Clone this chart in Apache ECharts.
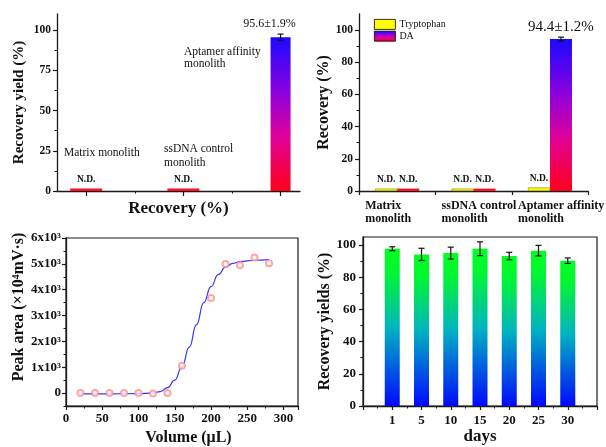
<!DOCTYPE html>
<html><head><meta charset="utf-8">
<script src="https://cdn.jsdelivr.net/npm/echarts@6/dist/echarts.min.js"></script>
<style>html,body{margin:0;padding:0;background:#fff}#c{width:606px;height:447px}</style>
</head><body><div id="c"></div>
<script>
// ---------- Panel A: recovery yield on three monoliths ----------
const aCats = ['Matrix monolith', 'ssDNA control\nmonolith', 'Aptamer affinity\nmonolith'];
const aPos = [1, 2, 3];
const aValues = [1.5, 1.5, 95.6];
const aErr = [0, 0, 1.9];
const aDetected = [false, false, true];
const aTicks = [0, 25, 50, 75, 100];
const aMinorTicks = [12.5, 37.5, 62.5, 87.5];
// ---------- Panel B: Tryptophan vs DA ----------
const bCats = ['Matrix\nmonolith', 'ssDNA control\nmonolith', 'Aptamer affinity\nmonolith'];
const bTrp = [1.5, 1.5, 2.2];
const bDA = [1.5, 1.5, 94.4];
const bDAErr = [0, 0, 1.2];
const bTrpDetected = [false, false, false];
const bDADetected = [false, false, true];
const bTicks = [0, 20, 40, 60, 80, 100];
const bMinorTicks = [10, 30, 50, 70, 90];
// ---------- Panel C: breakthrough curve ----------
const cVolume = [20, 40, 60, 80, 100, 120, 140, 160, 200, 220, 240, 260, 280];
const cArea = [0, 0, 0, 0, 0, -20, 0, 1057, 3680, 4997, 4946, 5250, 5023];
const cFitX = [20, 60, 100, 120, 130, 140, 150, 160, 170, 180, 190, 200, 210, 220, 230, 240, 260, 280];
const cFitY = [-30, -30, -22, 5, 60, 210, 500, 1020, 1780, 2650, 3500, 4120, 4580, 4870, 5020, 5090, 5140, 5160];
const cYTicks = [0, 1000, 2000, 3000, 4000, 5000, 6000];
const cYMinorTicks = [-500, 500, 1500, 2500, 3500, 4500, 5500];
// ---------- Panel D: stability over days ----------
const dDays = ['1', '5', '10', '15', '20', '25', '30'];
const dYield = [97.7, 94.2, 95.0, 97.7, 93.2, 96.5, 90.3];
const dErr = [1.2, 3.8, 3.7, 4.3, 2.3, 3.3, 1.7];
const dYTicks = [0, 20, 40, 60, 80, 100];
const dYMinorTicks = [10, 30, 50, 70, 90];

const serif = 'Liberation Serif';
const ink = '#1a1a1a';
const chart = echarts.init(document.getElementById('c'), null, {renderer: 'canvas'});
function grad(stops) {
  return new echarts.graphic.LinearGradient(0, 0, 0, 1, stops.map(s => ({offset: s[0], color: s[1]})));
}
const gradRB = () => grad([[0, '#1a0aff'], [0.35, '#8a00e0'], [0.65, '#e0009a'], [1, '#ff0018']]);
const gradGB = grad([[0, '#00ff1e'], [0.15, '#00f732'], [0.5, '#00b4c0'], [1, '#0008ff']]);
const flatRed = '#ff1020';

function mainAxis(o) {
  return Object.assign({
    type: 'value',
    axisLine: {show: true, onZero: false, lineStyle: {color: ink, width: 1.3}},
    axisTick: Object.assign({show: true, length: 4, lineStyle: {color: ink, width: 1.2}}, o.tick || {}),
    axisLabel: Object.assign({color: '#111', fontFamily: serif, fontWeight: 'bold', fontSize: 11.5}, o.label || {}),
    splitLine: {show: false},
    nameLocation: 'middle',
    nameTextStyle: Object.assign({color: '#111', fontFamily: serif, fontWeight: 'bold', fontSize: 16}, o.nameStyle || {})
  }, o.rest || {});
}
function minorAxis(gridIndex, min, max, values, position) {
  return {
    type: 'value', gridIndex, min, max, position,
    axisLine: {show: false, onZero: false},
    axisTick: {show: true, length: 2.5, customValues: values, lineStyle: {color: ink, width: 1}},
    axisLabel: {show: false}, splitLine: {show: false}
  };
}
function errRender(offset, cap) {
  return function (params, api) {
    const x = api.value(0), y = api.value(1), e = api.value(2);
    if (!e) return null;
    const lo = api.coord([x, y - e]), hi = api.coord([x, y + e]);
    const cx = lo[0] + offset;
    const st = {stroke: '#111', lineWidth: 1.2};
    return {type: 'group', children: [
      {type: 'line', shape: {x1: cx, y1: lo[1], x2: cx, y2: hi[1]}, style: st},
      {type: 'line', shape: {x1: cx - cap, y1: hi[1], x2: cx + cap, y2: hi[1]}, style: st},
      {type: 'line', shape: {x1: cx - cap, y1: lo[1], x2: cx + cap, y2: lo[1]}, style: st}
    ]};
  };
}
const bLabelW = 64;

const option = {
  animation: false,
  backgroundColor: '#fff',
  grid: [
    {left: 57, top: 14, width: 243, height: 177},
    {left: 359, top: 14, width: 237, height: 177},
    {left: 66, top: 238, width: 232, height: 171, show: true, borderColor: ink, borderWidth: 1.2},
    {left: 363, top: 237, width: 234, height: 169, show: true, borderColor: ink, borderWidth: 1.2}
  ],
  legend: {
    data: ['Tryptophan', 'DA'], left: 369, top: 14, orient: 'vertical',
    itemWidth: 21, itemHeight: 10, itemGap: 1, icon: 'rect', selectedMode: false,
    itemStyle: {borderColor: '#000', borderWidth: 0.8},
    textStyle: {fontFamily: serif, fontSize: 10, color: '#111', padding: [0, 0, 0, -1]}
  },
  xAxis: [
    mainAxis({rest: {gridIndex: 0, min: 0.7, max: 3.2, name: 'Recovery (%)', nameGap: 9},
      tick: {customValues: aPos, length: 5}, label: {show: false}, nameStyle: {fontSize: 17}}),
    minorAxis(0, 0.7, 3.2, [1.5, 2.5], 'bottom'),
    mainAxis({rest: {type: 'category', gridIndex: 1, data: bCats},
      tick: {length: 4},
      label: {interval: 0, margin: 8, lineHeight: 13, fontSize: 12,
        formatter: v => v.split('\n').map(l => '{t|' + l + '}').join('\n'),
        rich: {t: {width: bLabelW, align: 'left', fontFamily: serif, fontWeight: 'bold', fontSize: 12, lineHeight: 13, color: '#111'}}}}),
    mainAxis({rest: {gridIndex: 2, min: 0, max: 320, interval: 50, name: 'Volume (μL)', nameGap: 24,
      minorTick: {show: true, splitNumber: 2, length: 2.5, lineStyle: {color: ink, width: 1}}},
      label: {fontSize: 13, margin: 6, formatter: v => (v <= 300 ? String(v) : '')},
      nameStyle: {fontSize: 16, padding: [0, 0, 0, 13]}}),
    mainAxis({rest: {gridIndex: 3, min: 0, max: 8, interval: 1, name: 'days', nameGap: 22,
      minorTick: {show: true, splitNumber: 2, length: 2.5, lineStyle: {color: ink, width: 1}}},
      label: {fontSize: 13, margin: 8, formatter: v => (v >= 1 && v <= dDays.length ? dDays[v - 1] : '')},
      nameStyle: {fontSize: 17}})
  ],
  yAxis: [
    mainAxis({rest: {gridIndex: 0, min: 0, max: 110, name: 'Recovery yield (%)', nameGap: 30},
      tick: {customValues: aTicks}, label: {customValues: aTicks, margin: 6}, nameStyle: {fontSize: 15}}),
    minorAxis(0, 0, 110, aMinorTicks, 'left'),
    mainAxis({rest: {gridIndex: 1, min: 0, max: 110, name: 'Recovery (%)', nameGap: 24},
      tick: {customValues: bTicks}, label: {customValues: bTicks, margin: 6}, nameStyle: {fontSize: 16}}),
    minorAxis(1, 0, 110, bMinorTicks, 'left'),
    mainAxis({rest: {gridIndex: 2, min: -500, max: 6000, name: 'Peak area (×10⁴mV·s)', nameGap: 37},
      tick: {customValues: cYTicks},
      label: {customValues: cYTicks, fontSize: 13, margin: 5, formatter: v => (v === 0 ? '0' : (v / 1000) + 'x10³')},
      nameStyle: {fontSize: 16, padding: [0, 0, 0, 30]}}),
    minorAxis(2, -500, 6000, cYMinorTicks, 'left'),
    mainAxis({rest: {gridIndex: 3, min: 0, max: 105, name: 'Recovery yields (%)', nameGap: 28},
      tick: {customValues: dYTicks}, label: {customValues: dYTicks, fontSize: 13, margin: 7}, nameStyle: {fontSize: 16}}),
    minorAxis(3, 0, 105, dYMinorTicks, 'left')
  ],
  graphic: [
    {type: 'text', left: 64, top: 146.5, style: {text: aCats[0], fontFamily: serif, fontSize: 11.5, lineHeight: 13, fill: '#111'}},
    {type: 'text', left: 164, top: 142, style: {text: aCats[1], fontFamily: serif, fontSize: 11.5, lineHeight: 14, fill: '#111'}},
    {type: 'text', left: 184, top: 46, style: {text: aCats[2], fontFamily: serif, fontSize: 11.5, lineHeight: 12, fill: '#111'}}
  ],
  series: [
    {
      type: 'custom', xAxisIndex: 0, yAxisIndex: 0,
      data: aPos.map((x, i) => [x, aValues[i], aErr[i]]),
      renderItem: function (params, api) {
        const i = params.dataIndex;
        const x = api.value(0), y = api.value(1), e = api.value(2);
        const det = aDetected[i];
        const base = api.coord([x, 0]), top = api.coord([x, y]);
        const w = det ? 20 : 32;
        const children = [{type: 'rect', shape: {x: base[0] - w / 2, y: top[1], width: w, height: base[1] - top[1]},
          style: {fill: det ? gradRB() : flatRed}}];
        if (!det) {
          children.push({type: 'text', x: base[0], y: top[1] - 4,
            style: {text: 'N.D.', fontFamily: serif, fontWeight: 'bold', fontSize: 9.5, fill: '#111', align: 'center', verticalAlign: 'bottom'}});
        } else {
          const et = api.coord([x, y + e]);
          children.push({type: 'text', x: base[0] - 11, y: et[1] - 4,
            style: {text: y + '±' + e + '%', fontFamily: serif, fontSize: 12, fill: '#111', align: 'center', verticalAlign: 'bottom'}});
        }
        return {type: 'group', children};
      }
    },
    {type: 'custom', xAxisIndex: 0, yAxisIndex: 0, z: 5, data: aPos.map((x, i) => [x, aValues[i], aErr[i]]), renderItem: errRender(0, 3)},
    {
      name: 'Tryptophan', type: 'bar', xAxisIndex: 2, yAxisIndex: 2, barWidth: 22, barGap: '0%',
      itemStyle: {color: '#ffff00', borderColor: '#8a8a00', borderWidth: 0.6},
      data: bTrp.map((v, i) => ({value: v, label: {show: !bTrpDetected[i]}})),
      label: {show: true, position: 'top', distance: 4, formatter: 'N.D.', fontFamily: serif, fontWeight: 'bold', fontSize: 9.5, color: '#111'}
    },
    {
      name: 'DA', type: 'bar', xAxisIndex: 2, yAxisIndex: 2, barWidth: 22, barGap: '0%',
      itemStyle: {color: gradRB()},
      data: bDA.map((v, i) => bDADetected[i]
        ? {value: v, label: {show: true, formatter: v + '±' + bDAErr[i] + '%', fontWeight: 'normal', fontSize: 15, distance: 5}}
        : {value: v, itemStyle: {color: flatRed}}),
      label: {show: true, position: 'top', distance: 4, formatter: 'N.D.', fontFamily: serif, fontWeight: 'bold', fontSize: 9.5, color: '#111'}
    },
    {type: 'custom', xAxisIndex: 2, yAxisIndex: 2, z: 5, data: bDA.map((v, i) => [i, v, bDAErr[i]]), renderItem: errRender(11, 3)},
    {
      type: 'line', xAxisIndex: 3, yAxisIndex: 4, data: cFitX.map((x, i) => [x, cFitY[i]]),
      smooth: 0.5, smoothMonotone: 'x', showSymbol: false, lineStyle: {color: '#3535ff', width: 1.2}
    },
    {
      type: 'scatter', xAxisIndex: 3, yAxisIndex: 4, data: cVolume.map((x, i) => [x, cArea[i]]),
      symbol: 'emptyCircle', symbolSize: 6, itemStyle: {color: '#ff9090', borderColor: '#ff9090', borderWidth: 0.9}, z: 4
    },
    {
      type: 'bar', xAxisIndex: 4, yAxisIndex: 6, barWidth: 15,
      itemStyle: {color: gradGB},
      data: dYield.map((v, i) => [i + 1, v])
    },
    {type: 'custom', xAxisIndex: 4, yAxisIndex: 6, z: 5, data: dYield.map((v, i) => [i + 1, v, dErr[i]]), renderItem: errRender(0, 3)}
  ]
};
chart.setOption(option);
</script>
</body></html>
